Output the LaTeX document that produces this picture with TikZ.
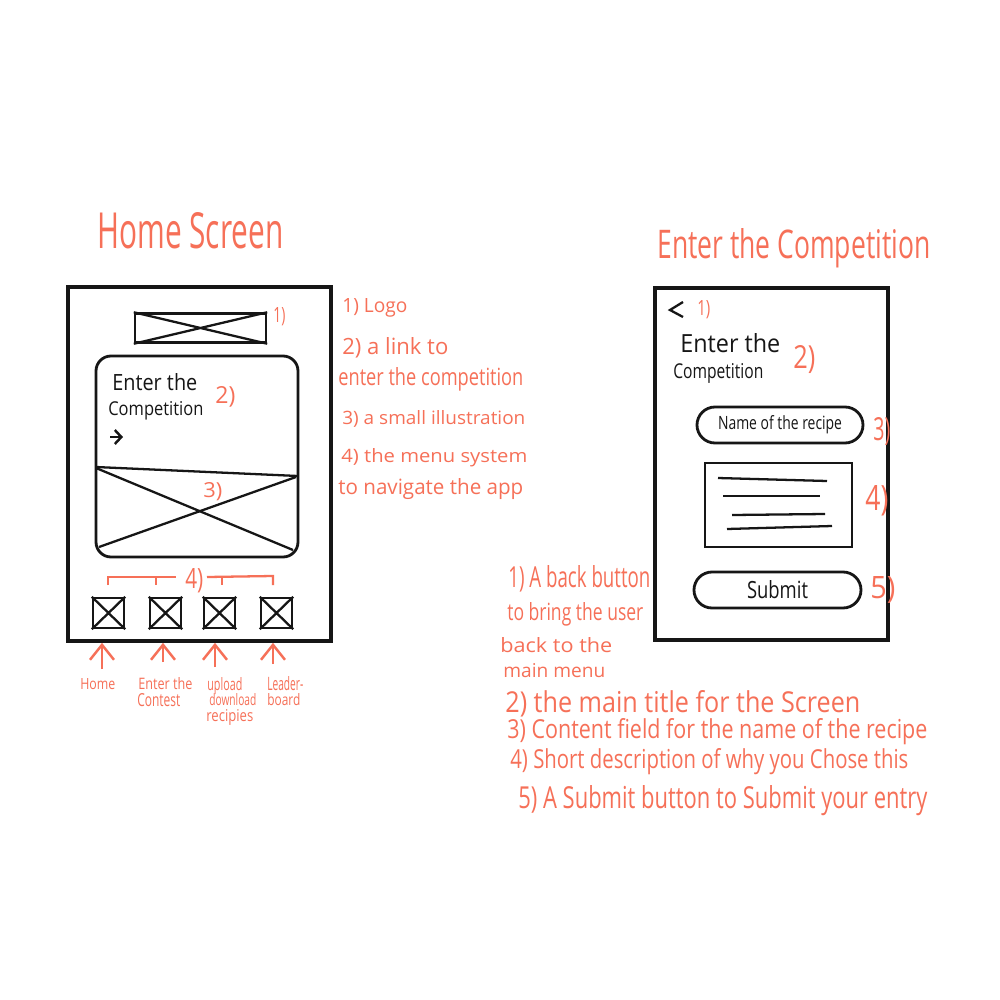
\documentclass[tikz,border=0pt]{standalone}
\usepackage{fontspec}
\usepackage{graphicx}
\setmainfont{Open Sans}
\usetikzlibrary{arrows.meta}
\definecolor{ink}{RGB}{22,22,22}
\definecolor{note}{RGB}{246,112,88}
% one drawing unit = 0.2mm
\newlength\pxu \setlength\pxu{0.2mm}
% text squeezed to a given width and height (in drawing units)
\newcommand\hw[3]{\resizebox{#1\pxu}{#2\pxu}{#3}}
\begin{document}
\begin{tikzpicture}[x=0.2mm,y=-0.2mm,
  screen/.style={draw=ink,line width=2.1pt,inner sep=0},
  box/.style={draw=ink,line width=1.4pt,inner sep=0},
  xline/.style={draw=ink,line width=1.3pt},
  lbl/.style={anchor=base west,inner sep=0,text=note},
  blk/.style={anchor=base west,inner sep=0,text=ink},
  brk/.style={draw=note,line width=1.3pt},
  arr/.style={draw=note,line width=1.4pt,-{Straight Barb[length=3mm,width=4.8mm]}}]
\useasboundingbox[fill=white] (0,0) rectangle (1000,1000);

% ---------- Home screen ----------
\node[lbl] (homeT) at (97,248) {\hw{186}{36}{Home Screen}};
\node[screen,minimum width=52.6mm,minimum height=70.8mm] (lscr) at (199.5,464) {};

% logo placeholder
\node[box,minimum width=26.2mm,minimum height=5.8mm] (logo) at (200.5,328) {};
\draw[xline] (logo.north west) -- (logo.south east) (logo.south west) -- (logo.north east);
\node[lbl] (n1) at (273,322) {\hw{12}{15}{1)}};

% competition card with illustration
\node[box,line width=1.6pt,minimum width=40.4mm,minimum height=40.2mm,rounded corners=3mm] (card) at (197,456.5) {};
\node[blk] (cEnter) at (112,390) {\hw{85}{17}{Enter the}};
\node[blk] (cComp) at (108,415) {\hw{95}{14}{Competition}};
\coordinate (go1) at (110,437);
\coordinate (go2) at (123,437);
\draw[draw=ink,line width=1.4pt,-{Straight Barb[length=1.3mm,width=2.8mm]}] (go1) -- (go2);
\node[lbl] (n2) at (215,403) {\hw{20}{17}{2)}};
\draw[xline] (96,467) -- (298,476);
\draw[xline] (96,468) -- (293,550);
\draw[xline] (99,547) -- (296,477);
\node[lbl] (n3) at (203,497) {\hw{19}{15}{3)}};

% menu bracket
\draw[brk] (108,585) -- (108,577) -- (176,577);
\draw[brk] (156,577) -- (156,585);
\draw[brk] (207,577) -- (273,576) -- (273,585);
\draw[brk] (222,577) -- (222,585);
\node[lbl] (n4) at (185,588) {\hw{18}{20}{4)}};

% menu icons
\foreach \i/\x in {1/108.5,2/165.5,3/219.5,4/276.5}{
  \node[box,minimum width=6.2mm,minimum height=6mm] (ic\i) at (\x,613) {};
  \draw[xline] (ic\i.north west) -- (ic\i.south east) (ic\i.south west) -- (ic\i.north east);
}

% menu labels and pointers
\node[lbl] (mHome) at (80,689) {\hw{35}{11}{Home}};
\node[lbl] (mEnt1) at (138,689) {\hw{54}{12}{Enter the}};
\node[lbl] (mEnt2) at (137,706) {\hw{43}{13}{Contest}};
\node[lbl] (mUp1) at (207,690) {\hw{35}{13}{upload}};
\node[lbl] (mUp2) at (209,705) {\hw{47}{12}{download}};
\node[lbl] (mUp3) at (206,721) {\hw{47}{12}{recipies}};
\node[lbl] (mLd1) at (267,690) {\hw{36}{14}{Leader-}};
\node[lbl] (mLd2) at (267,705) {\hw{33}{12}{board}};
\coordinate (p1) at (102,669);
\coordinate (p2) at (163,662);
\coordinate (p3) at (215,667);
\coordinate (p4) at (273,664);
\foreach \i in {1,2,3,4}{\draw[arr] (p\i) -- (p\i |- lscr.south);}

% notes for the home screen
\node[lbl] (a1) at (342,312) {\hw{65}{14}{1) Logo}};
\node[lbl] (a2) at (342,354) {\hw{106}{17}{2) a link to}};
\node[lbl] (a3) at (338,385) {\hw{185}{18}{enter the competition}};
\node[lbl] (a4) at (342,424) {\hw{183}{14}{3) a small illustration}};
\node[lbl] (a5) at (341,462) {\hw{186}{14}{4) the menu system}};
\node[lbl] (a6) at (338,494) {\hw{185}{16}{to navigate the app}};

% ---------- Enter the Competition screen ----------
\node[lbl] (compT) at (657,258) {\hw{273}{30}{Enter the Competition}};
\node[screen,minimum width=46.6mm,minimum height=70.4mm] (rscr) at (771.5,464) {};

\coordinate (bk1) at (683,302);
\coordinate (bk2) at (670,310);
\coordinate (bk3) at (683,317);
\draw[draw=ink,line width=1.3pt] (bk1) -- (bk2) -- (bk3);
\node[lbl] (r1) at (697,315) {\hw{13}{15}{1)}};
\node[blk] (rEnter) at (680,352) {\hw{100}{19}{Enter the}};
\node[blk] (rComp) at (673,378) {\hw{90}{15}{Competition}};
\node[lbl] (r2) at (793,368) {\hw{22}{23}{2)}};

\node[box,line width=1.6pt,minimum width=33.2mm,minimum height=7.2mm,rounded corners=3.6mm,text=ink] (nameF) at (780,425) {\hw{124}{14}{Name of the recipe}};
\node[lbl] (r3) at (873,440) {\hw{17}{23}{3)}};

\node[box,minimum width=29.4mm,minimum height=16.8mm] (desc) at (778.5,505) {};
\draw[xline] (718,478) -- (827,481);
\draw[xline] (723,496) -- (820,496);
\draw[xline] (732,515) -- (825,514);
\draw[xline] (727,529) -- (832,526);
\node[lbl] (r4) at (865,510) {\hw{23}{25}{4)}};

\node[box,line width=1.6pt,minimum width=33.4mm,minimum height=7.2mm,rounded corners=3.6mm,text=ink] (submit) at (777.5,590) {\hw{61}{18}{Submit}};
\node[lbl] (r5) at (870,598) {\hw{25}{22}{5)}};

% notes for the competition screen
\node[lbl] (b1) at (508,587) {\hw{142}{22}{1) A back button}};
\node[lbl] (b2) at (507,620) {\hw{136}{18}{to bring the user}};
\node[lbl] (b3) at (500,652) {\hw{112}{15}{back to the}};
\node[lbl] (b4) at (503,677) {\hw{102}{14}{main menu}};
\node[lbl] (b5) at (505,712) {\hw{355}{22}{2) the main title for the Screen}};
\node[lbl] (b6) at (507,738) {\hw{420}{20}{3) Content field for the name of the recipe}};
\node[lbl] (b7) at (510,768) {\hw{398}{20}{4) Short description of why you Chose this}};
\node[lbl] (b8) at (518,808) {\hw{409}{23}{5) A Submit button to Submit your entry}};
\end{tikzpicture}
\end{document}
